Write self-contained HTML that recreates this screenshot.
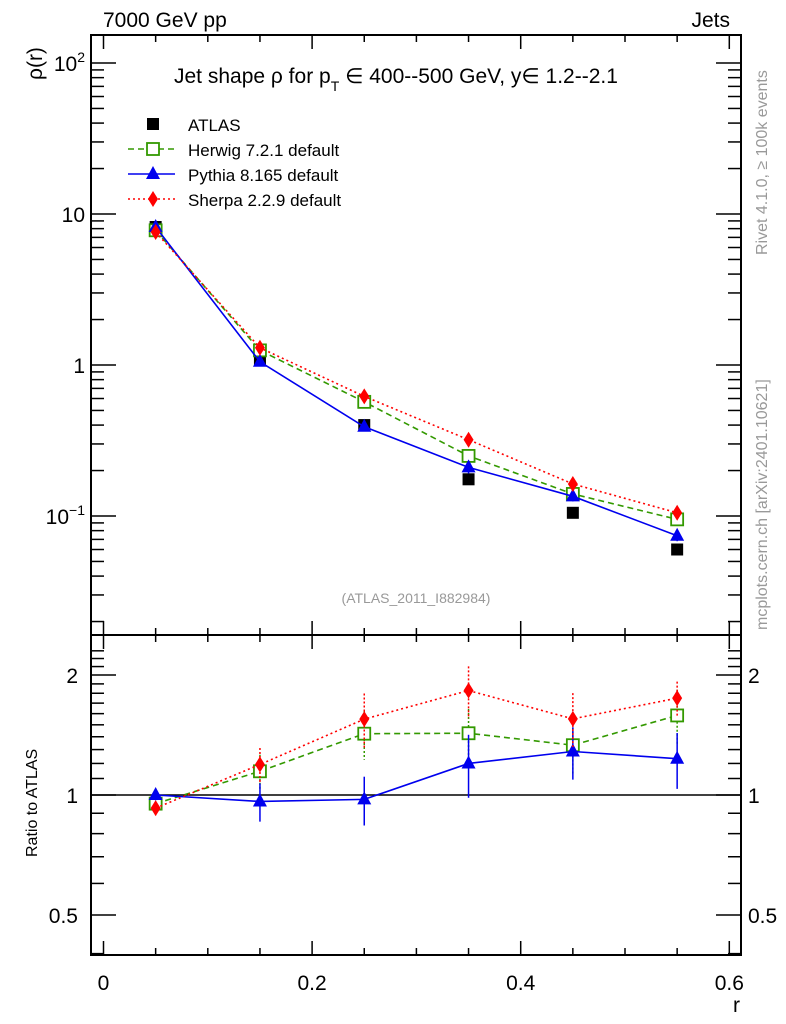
<!DOCTYPE html>
<html><head><meta charset="utf-8"><style>
body{margin:0;background:#fff;}
svg{display:block;font-family:"Liberation Sans",sans-serif;}
</style></head><body>
<svg id="c" width="786" height="1024" xmlns="http://www.w3.org/2000/svg"></svg>
<script>
const rVals=[0.05,0.15,0.25,0.35,0.45,0.55];
const atlas=[8.2,1.09,0.40,0.175,0.105,0.060];
const herwig=[7.8,1.25,0.57,0.25,0.14,0.095];
const pythia=[8.2,1.05,0.39,0.21,0.135,0.074];
const sherpa=[7.6,1.3,0.62,0.32,0.163,0.105];
const herwigErr=[0.04,0.10,0.14,0.15,0.16,0.16];
const pythiaErr=[0.03,0.11,0.14,0.18,0.15,0.16];
const sherpaErr=[0.04,0.10,0.16,0.15,0.16,0.10];
const xTicks=[0,0.2,0.4,0.6];
const xTickLabels=["0","0.2","0.4","0.6"];
const ratioTicks=[0.5,1,2];
const ratioTickLabels=["0.5","1","2"];

const NS="http://www.w3.org/2000/svg";
const svg=document.getElementById('c');
const L=91,R=741,T=35,M=635,B=955;
const X=v=>103.5+v*1043;
const Y=v=>365-151*Math.log10(v);
const YR=v=>795-398.6*Math.log10(v);
function el(tag,attrs,parent){const e=document.createElementNS(NS,tag);for(const k in attrs)e.setAttribute(k,attrs[k]);(parent||svg).appendChild(e);return e;}
function txt(x,y,s,attrs,parent){const e=el('text',Object.assign({x:x,y:y},attrs||{}),parent);e.textContent=s;return e;}

let f1=el('rect',{x:L,y:T,width:R-L,height:M-T,fill:'none',stroke:'#000','stroke-width':2});


let f2=el('rect',{x:L,y:M,width:R-L,height:B-M,fill:'none',stroke:'#000','stroke-width':2});



for(let j=0;j<=12;j++){const v=j*0.05;
  const x=X(v);const major=j%4===0;
  const len=major?14:7;
  el('line',{x1:x,x2:x,y1:T,y2:T+len,stroke:'#000','stroke-width':1.5});
  el('line',{x1:x,x2:x,y1:M,y2:M-len,stroke:'#000','stroke-width':1.5});
  el('line',{x1:x,x2:x,y1:M,y2:M+len,stroke:'#000','stroke-width':1.5});
  el('line',{x1:x,x2:x,y1:B,y2:B-len,stroke:'#000','stroke-width':1.5});
}
xTicks.forEach((v,i)=>{const t=txt(X(v),990,xTickLabels[i],{'font-size':21,'text-anchor':'middle'});

});
let xt=txt(740,1012,'r',{'font-size':21,'text-anchor':'end'});



for(let d=-2;d<=2;d++){for(let k=1;k<=9;k++){const v=k*Math.pow(10,d);const y=Y(v);if(y<T||y>M)continue;
 const len=k===1?25:13;
 el('line',{x1:L,x2:L+len,y1:y,y2:y,stroke:'#000','stroke-width':1.5});
 el('line',{x1:R,x2:R-len,y1:y,y2:y,stroke:'#000','stroke-width':1.5});}}
function ylab(y,html,name){const t=el('text',{x:85,y:y+8,'font-size':21,'text-anchor':'end'});t.innerHTML=html;

}
ylab(Y(100),'10<tspan dy="-9" font-size="14">2</tspan>','y-tick-100');
ylab(Y(10),'10','y-tick-10');
ylab(Y(1),'1','y-tick-1');
ylab(Y(0.1),'10<tspan dy="-9" font-size="14">−1</tspan>','y-tick-0.1');
let yt=txt(0,0,'ρ(r)',{'font-size':21,transform:'translate(42,80) rotate(-90)'});



for(let v=0.4;v<=2.35;v+=0.1){const y=YR(v);if(y<M||y>B)continue;
 const maj=[0.5,1,2].some(m=>Math.abs(m-v)<1e-6);const len=maj?25:13;
 el('line',{x1:L,x2:L+len,y1:y,y2:y,stroke:'#000','stroke-width':1.5});
 el('line',{x1:R,x2:R-len,y1:y,y2:y,stroke:'#000','stroke-width':1.5});}
ratioTicks.forEach((v,i)=>{
 let a=txt(78,YR(v)+8,ratioTickLabels[i],{'font-size':21,'text-anchor':'end'});
 
 
 let b=txt(748,YR(v)+8,ratioTickLabels[i],{'font-size':21});
 
 });
let rt=txt(0,0,'Ratio to ATLAS',{'font-size':16,transform:'translate(37,857) rotate(-90)'});


el('line',{x1:L,x2:R,y1:YR(1),y2:YR(1),stroke:'#000','stroke-width':1.5});

let h1=txt(103,27,'7000 GeV pp',{'font-size':21});


let h2=txt(730,27,'Jets',{'font-size':21,'text-anchor':'end'});


let ti=el('text',{x:174,y:83,'font-size':21});
ti.innerHTML='Jet shape ρ for p<tspan dy="8" font-size="14">T</tspan><tspan dy="-8"> ∈ 400--500 GeV, y∈ 1.2--2.1</tspan>';


let an=txt(416,603,'(ATLAS_2011_I882984)',{'font-size':14,fill:'#999','text-anchor':'middle'});


let rv=txt(0,0,'Rivet 4.1.0, ≥ 100k events',{'font-size':16,fill:'#999',transform:'translate(767,255) rotate(-90)'});


let mc=txt(0,0,'mcplots.cern.ch [arXiv:2401.10621]',{'font-size':16,fill:'#999',transform:'translate(767,630) rotate(-90)'});



function marker(kind,x,y,color,g){
 if(kind==='sq') el('rect',{x:x-6,y:y-6,width:12,height:12,fill:color},g);
 if(kind==='osq') el('rect',{x:x-6,y:y-6,width:12,height:12,fill:'#fff',stroke:color,'stroke-width':1.8},g);
 if(kind==='tri') el('polygon',{points:`${x},${y-8} ${x-7},${y+5} ${x+7},${y+5}`,fill:color},g);
 if(kind==='dia') el('polygon',{points:`${x},${y-8} ${x-5},${y} ${x},${y+8} ${x+5},${y}`,fill:color},g);
}
const series=[
 {name:'herwig',vals:herwig,err:herwigErr,color:'#339900',dash:'6,4',kind:'osq'},
 {name:'pythia',vals:pythia,err:pythiaErr,color:'#0000ee',dash:'',kind:'tri'},
 {name:'sherpa',vals:sherpa,err:sherpaErr,color:'#ff0000',dash:'2,3',kind:'dia'}];

let ga=el('g',{});


rVals.forEach((r,i)=>marker('sq',X(r),Y(atlas[i]),'#000',ga));

series.forEach(s=>{
 const g=el('g',{});
 
 
 const pts=rVals.map((r,i)=>X(r)+','+Y(s.vals[i])).join(' ');
 el('polyline',{points:pts,fill:'none',stroke:s.color,'stroke-width':1.6,'stroke-dasharray':s.dash},g);
 rVals.forEach((r,i)=>{const e=s.err[i]*0.5;
  el('line',{x1:X(r),x2:X(r),y1:Y(s.vals[i]*(1+e)),y2:Y(s.vals[i]*(1-e)),stroke:s.color,'stroke-width':1.5,'stroke-dasharray':s.dash?'2,2':''},g);
  marker(s.kind,X(r),Y(s.vals[i]),s.color,g);});
 const gr=el('g',{});
 
 
 const rat=s.vals.map((v,i)=>v/atlas[i]);
 el('polyline',{points:rVals.map((r,i)=>X(r)+','+YR(rat[i])).join(' '),fill:'none',stroke:s.color,'stroke-width':1.6,'stroke-dasharray':s.dash},gr);
 rVals.forEach((r,i)=>{
  el('line',{x1:X(r),x2:X(r),y1:YR(rat[i]*(1+s.err[i])),y2:YR(rat[i]*(1-s.err[i])),stroke:s.color,'stroke-width':1.5,'stroke-dasharray':s.dash?'2,2':''},gr);
  marker(s.kind,X(r),YR(rat[i]),s.color,gr);});
});

const leg=[['ATLAS','sq','#000',null],['Herwig 7.2.1 default','osq','#339900','6,4'],['Pythia 8.165 default','tri','#0000ee',''],['Sherpa 2.2.9 default','dia','#ff0000','2,3']];
leg.forEach((l,i)=>{const y=124+25*i;const g=el('g',{});
 
 
 if(l[3]!==null) el('line',{x1:128,x2:175,y1:y,y2:y,stroke:l[2],'stroke-width':1.5,'stroke-dasharray':l[3]},g);
 marker(l[1],153,y,l[2],g);
 txt(188,y+7,l[0],{'font-size':17},g);});
</script>
</body></html>
